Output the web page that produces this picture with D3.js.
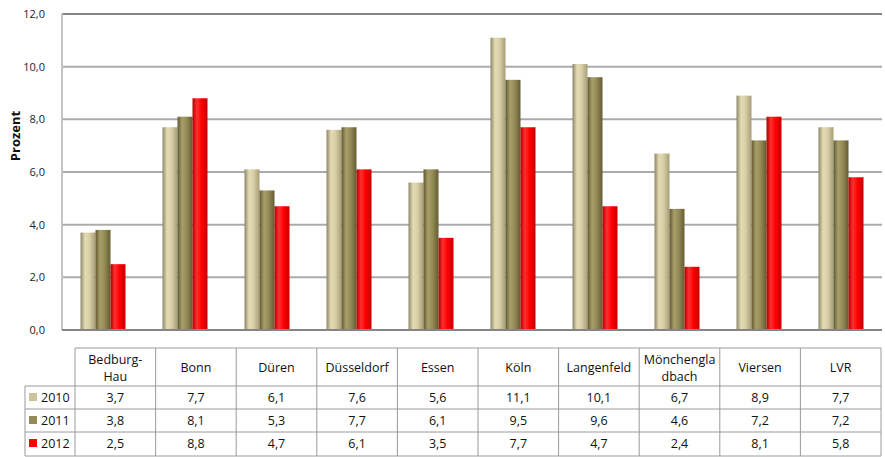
<!DOCTYPE html>
<html><head><meta charset="utf-8">
<script src="https://cdn.jsdelivr.net/npm/d3@7"></script>
<style>body{margin:0;background:#fff}svg{display:block;font-family:"Open Sans","Noto Sans",sans-serif}</style>
</head><body><svg id="c" width="885" height="457"></svg>
<script>
const categories = ["Bedburg-Hau","Bonn","Düren","Düsseldorf","Essen","Köln","Langenfeld","Mönchengladbach","Viersen","LVR"];
const headerLines = [["Bedburg-","Hau"],["Bonn"],["Düren"],["Düsseldorf"],["Essen"],["Köln"],["Langenfeld"],["Mönchengla","dbach"],["Viersen"],["LVR"]];
const years = ["2010","2011","2012"];
const v2010 = [3.7,7.7,6.1,7.6,5.6,11.1,10.1,6.7,8.9,7.7];
const v2011 = [3.8,8.1,5.3,7.7,6.1,9.5,9.6,4.6,7.2,7.2];
const v2012 = [2.5,8.8,4.7,6.1,3.5,7.7,4.7,2.4,8.1,5.8];
const yTicks = [0,2,4,6,8,10,12];
const series = [v2010, v2011, v2012];
const colors = ["#cdc49c","#958b57","#ff0000"];
const grads = [
  ["#8d8666","#e2dbb5","#d8cfa6","#a59d78"],
  ["#5f5830","#a79e69","#958b57","#645c33"],
  ["#b00000","#ff3030","#ff0000","#c80000"]
];

const svg = d3.select("#c");
const fmt = d => d.toFixed(1).replace(".", ",");
const L = 62, R = 882, T = 14, B = 330;
const x = d3.scaleBand().domain(categories).range([L, R]);
const y = d3.scaleLinear().domain([0, 12]).range([B, T]);
const barW = 15;

const defs = svg.append("defs");
grads.forEach((g, i) => {
  const lg = defs.append("linearGradient").attr("id", "g" + i).attr("x1", "0").attr("x2", "1").attr("y1", "0").attr("y2", "0");
  [0, 0.3, 0.6, 1].forEach((o, j) => lg.append("stop").attr("offset", o).attr("stop-color", g[j]));
});

// gridlines
svg.append("g").selectAll("line").data(yTicks.filter(t => t > 0)).join("line")
  .attr("x1", L).attr("x2", R).attr("y1", d => y(d)).attr("y2", d => y(d))
  .attr("stroke", d => d === 12 ? "#858585" : "#ababab").attr("stroke-width", 2);

// left axis
svg.append("line").attr("x1", L).attr("x2", L).attr("y1", T - 1).attr("y2", B).attr("stroke", "#c4c4c4").attr("stroke-width", 2);

// tick labels
svg.append("g").selectAll("text").data(yTicks).join("text")
  .attr("x", 45).attr("y", d => y(d) + 4).attr("text-anchor", "end")
  .attr("font-size", 11).attr("fill", "#222").text(fmt);

// axis title
svg.append("text").attr("transform", `translate(20,${(T + B) / 2 - 36}) rotate(-90)`)
  .attr("text-anchor", "middle").attr("font-size", 13).attr("font-weight", "bold").attr("fill", "#111").text("Prozent");

// bars
series.forEach((s, i) => {
  svg.append("g").selectAll("rect").data(s).join("rect")
    .attr("x", (d, k) => x(categories[k]) + x.bandwidth() / 2 - 1.5 * barW + i * barW)
    .attr("y", d => y(d)).attr("width", barW).attr("height", d => B - y(d))
    .attr("fill", `url(#g${i})`);
});

// baseline
svg.append("line").attr("x1", L).attr("x2", R).attr("y1", B).attr("y2", B).attr("stroke", "#858585").attr("stroke-width", 2);

// table
const tx = d3.scaleBand().domain(categories).range([75, 881]);
const rowTop = [348, 386, 409, 432, 456];
const lineC = "#9a9a9a";
const tg = svg.append("g").attr("font-size", 12.5).attr("fill", "#111");
// horizontal lines
tg.append("line").attr("x1", 75).attr("x2", 881).attr("y1", rowTop[0]).attr("y2", rowTop[0]).attr("stroke", lineC);
[1,2,3,4].forEach(r => tg.append("line").attr("x1", 25).attr("x2", 881).attr("y1", rowTop[r]).attr("y2", rowTop[r]).attr("stroke", lineC));
// vertical lines
tg.append("line").attr("x1", 25).attr("x2", 25).attr("y1", rowTop[1]).attr("y2", rowTop[4]).attr("stroke", lineC);
categories.forEach(c => tg.append("line").attr("x1", tx(c)).attr("x2", tx(c)).attr("y1", rowTop[0]).attr("y2", rowTop[4]).attr("stroke", lineC));
tg.append("line").attr("x1", 881).attr("x2", 881).attr("y1", rowTop[0]).attr("y2", rowTop[4]).attr("stroke", lineC);
// headers
headerLines.forEach((ls, k) => {
  const cx = tx(categories[k]) + tx.bandwidth() / 2;
  const t = tg.append("text").attr("text-anchor", "middle");
  if (ls.length === 1) t.append("tspan").attr("x", cx).attr("y", 372).text(ls[0]);
  else ls.forEach((s, j) => t.append("tspan").attr("x", cx).attr("y", 364 + j * 17).text(s));
});
// rows
series.forEach((s, i) => {
  const yy = rowTop[i + 1] + 16;
  tg.append("rect").attr("x", 29).attr("y", yy - 9).attr("width", 8).attr("height", 8).attr("fill", colors[i]);
  tg.append("text").attr("x", 41).attr("y", yy).text(years[i]);
  s.forEach((d, k) => tg.append("text").attr("x", tx(categories[k]) + tx.bandwidth() / 2).attr("y", yy).attr("text-anchor", "middle").text(fmt(d)));
});
</script></body></html>
